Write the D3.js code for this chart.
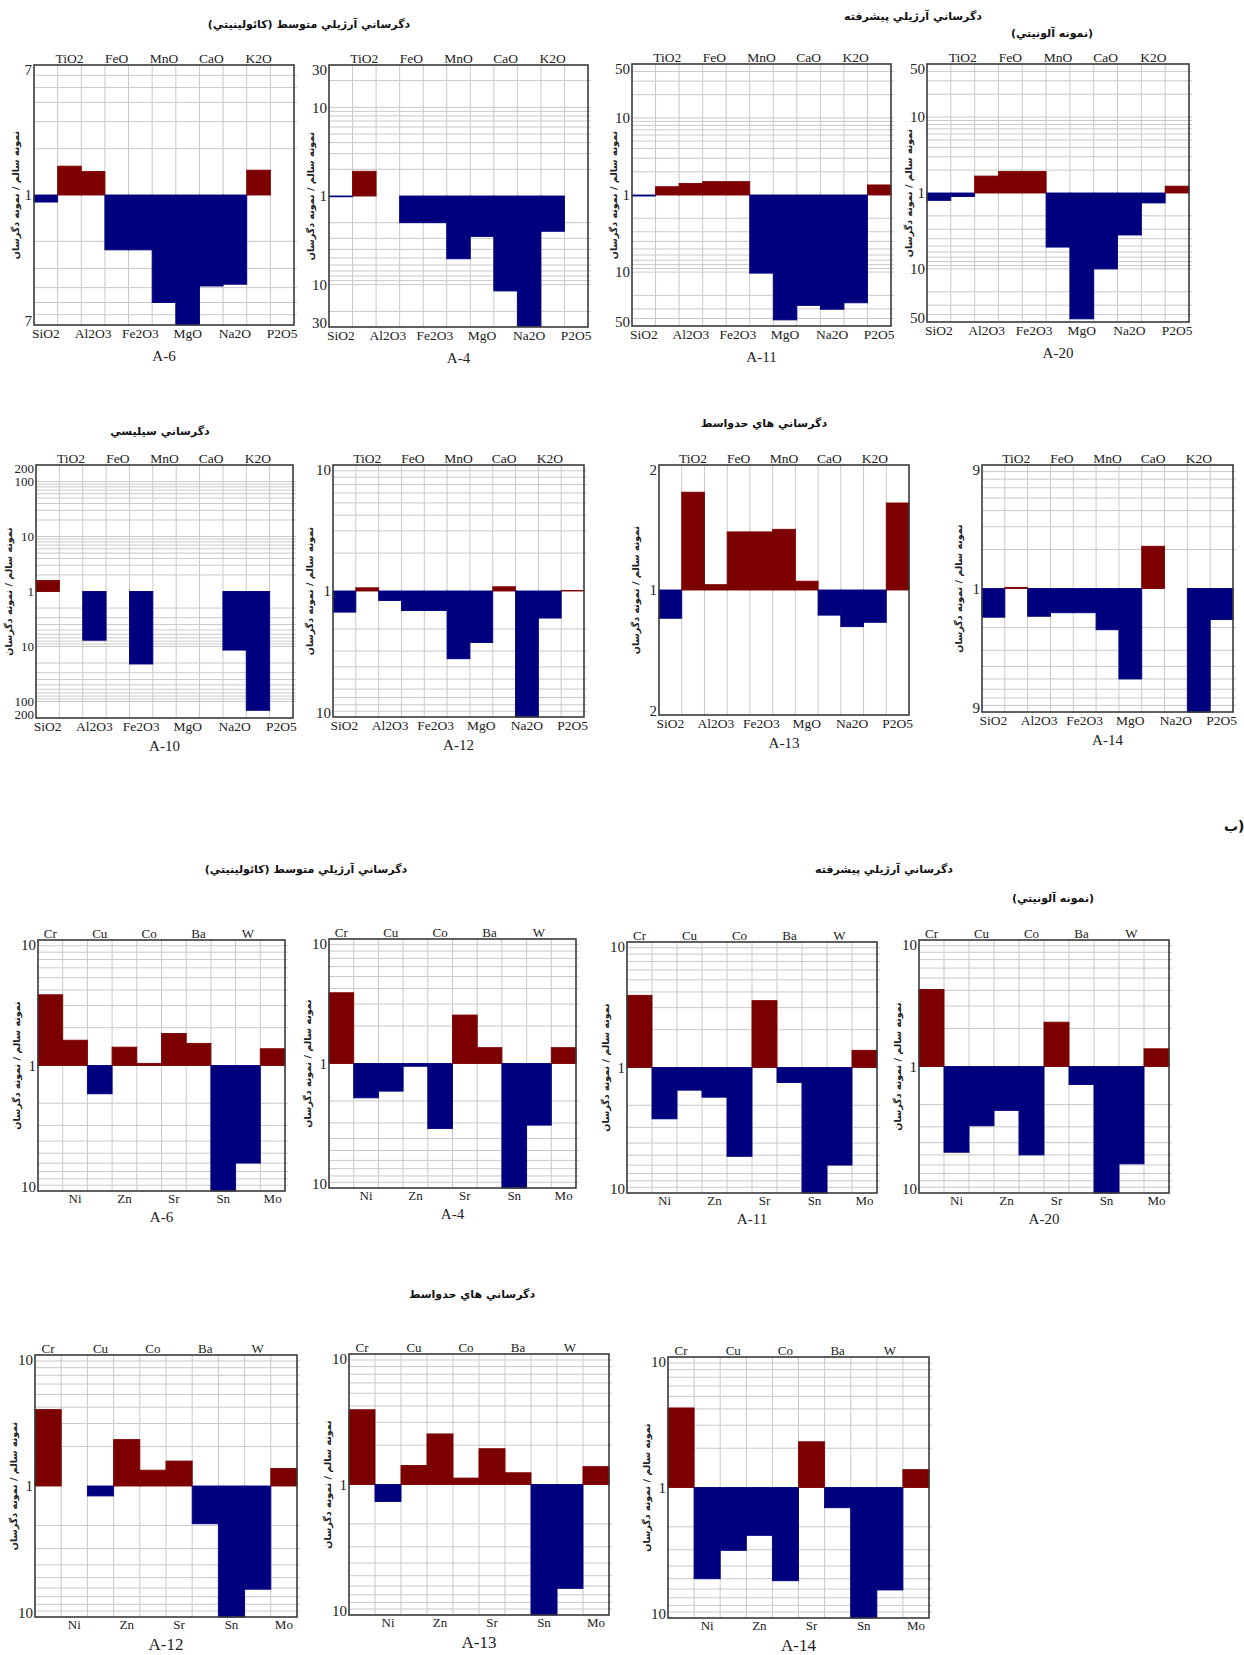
<!DOCTYPE html>
<html>
<head>
<meta charset="utf-8">
<script src="https://cdn.jsdelivr.net/npm/d3@7"></script>
<style>
  body { margin: 0; background: #fff; }
  svg { display: block; }
</style>
</head>
<body>
<svg id="chart" width="1244" height="1655"></svg>
<script>
// Element order on the horizontal axis
const oxides = ["SiO2", "TiO2", "Al2O3", "FeO", "Fe2O3", "MnO", "MgO", "CaO", "Na2O", "K2O", "P2O5"];
const traceElements = ["Cr", "Ni", "Cu", "Zn", "Co", "Sr", "Ba", "Sn", "W", "Mo"];

// Altered / fresh ratios, major oxides
const oxideA6  = [0.90, 1.54, 1.42, 0.44, 0.44, 0.20, 0.143, 0.256, 0.263, 1.45, 1.0];
const oxideA4  = [0.98, 1.90, 1.0, 0.50, 0.50, 0.196, 0.35, 0.085, 0.034, 0.40, 1.0];
const oxideA11 = [0.97, 1.28, 1.41, 1.49, 1.49, 0.097, 0.024, 0.037, 0.033, 0.040, 1.35];
const oxideA20 = [0.80, 0.90, 1.67, 1.92, 1.92, 0.194, 0.022, 0.10, 0.28, 0.74, 1.23];
const oxideA10 = [1.58, 1.0, 0.13, 1.0, 0.048, 1.0, 1.0, 1.0, 0.086, 0.0069, 1.0];
const oxideA12 = [0.68, 1.06, 0.84, 0.70, 0.70, 0.29, 0.39, 1.08, 0.10, 0.61, 1.01];
const oxideA13 = [0.855, 1.72, 1.03, 1.38, 1.38, 1.40, 1.05, 0.87, 0.816, 0.836, 1.62];
const oxideA14 = [0.60, 1.02, 0.61, 0.65, 0.65, 0.48, 0.20, 2.12, 1.0, 0.111, 0.575];

// Altered / fresh ratios, trace elements
const traceA6  = [3.66, 1.59, 0.595, 1.40, 1.04, 1.80, 1.50, 0.10, 0.167, 1.36];
const traceA4  = [3.70, 0.53, 0.60, 0.95, 0.30, 2.45, 1.34, 0.10, 0.32, 1.34];
const traceA11 = [3.76, 0.39, 0.66, 0.58, 0.196, 3.41, 0.76, 0.10, 0.167, 1.37];
const traceA20 = [4.06, 0.21, 0.34, 0.45, 0.20, 2.24, 0.72, 0.10, 0.17, 1.38];
const traceA12 = [3.83, 1.0, 0.84, 2.26, 1.32, 1.55, 0.515, 0.10, 0.163, 1.36];
const traceA13 = [3.74, 0.74, 1.40, 2.44, 1.12, 1.88, 1.23, 0.10, 0.16, 1.37];
const traceA14 = [4.07, 0.20, 0.33, 0.43, 0.193, 2.24, 0.70, 0.10, 0.164, 1.37];

// Sample names and symmetric axis limits / tick labels (same labels above and below 1)
const oxideSamples = ["A-6", "A-4", "A-11", "A-20", "A-10", "A-12", "A-13", "A-14"];
const oxideSeries = [oxideA6, oxideA4, oxideA11, oxideA20, oxideA10, oxideA12, oxideA13, oxideA14];
const oxideLimits = [7, 30, 50, 50, 200, 10, 2, 9];
const oxideTicks = [[7, 1], [30, 10, 1], [50, 10, 1], [50, 10, 1], [200, 100, 10, 1], [10, 1], [2, 1], [9, 1]];

const traceSamples = ["A-6", "A-4", "A-11", "A-20", "A-12", "A-13", "A-14"];
const traceSeries = [traceA6, traceA4, traceA11, traceA20, traceA12, traceA13, traceA14];
const traceLimits = [10, 10, 10, 10, 10, 10, 10];
const traceTicks = [10, 1];

// Group titles
const titleArgillicMid = "دگرساني آرژيلي متوسط (كائولينيتي)";
const titleArgillicAdv = "دگرساني آرژيلي پيشرفته";
const titleAlunite = "(نمونه آلونيتي)";
const titleSilicic = "دگرساني سيليسي";
const titleIntermediate = "دگرساني هاي حدواسط";
const yTitle = "نمونه سالم / نمونه دگرسان";

const GAIN = "#7d0000", LOSS = "#00007f";
const serif = "'Liberation Serif', 'DejaVu Serif', serif";
const persian = "'DejaVu Sans', sans-serif";

const svg = d3.select("#chart");

// Plot boxes: [left, right, top, bottom]
const oxideBoxes = [
  [34, 294, 65, 325], [329, 588, 65, 327], [632, 891, 64, 326], [927, 1189, 64, 322],
  [36, 293, 465, 718], [333, 584, 465, 717], [659, 909, 465, 715], [982, 1233, 465, 712]
];
const traceBoxes = [
  [38, 285, 940, 1191], [329, 576, 939, 1188], [627, 877, 942, 1193], [919, 1169, 940, 1193],
  [35, 297, 1355, 1617], [349, 609, 1354, 1615], [668, 929, 1357, 1618]
];

function logGrid(limit) {
  const vals = [];
  for (let p = 1; p < limit; p *= 10) {
    for (let k = 1; k <= 9; k++) {
      const v = k * p;
      if (v > 1 && v < limit - 1e-9) vals.push(v);
    }
  }
  return vals;
}

function drawPanel(opts) {
  const { cats, values, limit, ticks, box, name, nameSize, nameOffset,
          tickSize, topEven, titleOffset, catSize } = opts;
  const [x0, x1, y0, y1] = box;
  const g = svg.append("g");

  const x = d3.scaleBand().domain(cats).range([x0, x1]).padding(0);
  const y = d3.scaleLog().domain([1 / limit, limit]).range([y1, y0]);

  // background
  g.append("rect").attr("x", x0).attr("y", y0).attr("width", x1 - x0).attr("height", y1 - y0)
    .attr("fill", "#fff");

  // horizontal log grid, mirrored around 1
  const grid = logGrid(limit);
  const gridVals = grid.concat(grid.map(v => 1 / v));
  g.append("g").selectAll("line").data(gridVals).join("line")
    .attr("x1", x0).attr("x2", x1 + 3)
    .attr("y1", d => y(d)).attr("y2", d => y(d))
    .attr("stroke", "#c9c9c9").attr("stroke-width", 1);

  // vertical grid at column boundaries
  g.append("g").selectAll("line").data(cats.slice(1)).join("line")
    .attr("x1", d => x(d)).attr("x2", d => x(d))
    .attr("y1", y0).attr("y2", y1)
    .attr("stroke", "#c9c9c9").attr("stroke-width", 1);

  // bars from the ratio 1 line
  const base = y(1);
  g.append("g").selectAll("rect").data(cats.map((c, i) => ({ c, v: values[i] }))).join("rect")
    .attr("x", d => x(d.c))
    .attr("width", x.bandwidth())
    .attr("y", d => Math.min(y(d.v), base))
    .attr("height", d => Math.abs(y(d.v) - base))
    .attr("fill", d => d.v >= 1 ? GAIN : LOSS)
    .attr("stroke", d => d.v >= 1 ? GAIN : LOSS)
    .attr("stroke-width", 0.9);

  // frame
  g.append("rect").attr("x", x0).attr("y", y0).attr("width", x1 - x0).attr("height", y1 - y0)
    .attr("fill", "none").attr("stroke", "#3a3a3a").attr("stroke-width", 1.6);

  // y axis: labels mirrored above/below 1
  const yTicks = [];
  ticks.forEach(v => { yTicks.push(v); if (v !== 1) yTicks.push(1 / v); });
  const yAxis = d3.axisLeft(y).tickValues(yTicks).tickSize(0).tickPadding(2)
    .tickFormat(d => d >= 1 ? String(Math.round(d)) : String(Math.round(1 / d)));
  const ya = g.append("g").attr("transform", `translate(${x0},0)`).call(yAxis);
  ya.select(".domain").remove();
  ya.selectAll("text").attr("font-family", serif).attr("font-size", tickSize).attr("fill", "#222")
    .attr("dy", d => (Math.abs(d - limit) < 1e-9 ? "0.6em" : (Math.abs(d - 1 / limit) < 1e-9 ? "0.05em" : "0.32em")));

  // category labels alternating top / bottom
  const topCats = cats.filter((c, i) => (i % 2 === 0) === topEven);
  const botCats = cats.filter((c, i) => (i % 2 === 0) !== topEven);
  const at = g.append("g").attr("transform", `translate(0,${y0})`)
    .call(d3.axisTop(x).tickValues(topCats).tickSize(0).tickPadding(2));
  const ab = g.append("g").attr("transform", `translate(0,${y1})`)
    .call(d3.axisBottom(x).tickValues(botCats).tickSize(0).tickPadding(3));
  [at, ab].forEach(a => {
    a.select(".domain").remove();
    a.selectAll("text").attr("font-family", serif).attr("font-size", catSize).attr("fill", "#222");
  });

  // y title
  g.append("text")
    .attr("transform", `translate(${x0 - titleOffset},${(y0 + y1) / 2}) rotate(-90)`)
    .attr("text-anchor", "middle").attr("dominant-baseline", "middle")
    .attr("font-family", persian).attr("font-weight", "bold").attr("font-size", 9.5)
    .attr("fill", "#222").text(yTitle);

  // sample name
  g.append("text").attr("x", (x0 + x1) / 2).attr("y", y1 + nameOffset)
    .attr("text-anchor", "middle").attr("font-family", serif).attr("font-size", nameSize)
    .attr("fill", "#222").text(name);
}

oxideSamples.forEach((name, i) => {
  drawPanel({
    cats: oxides, values: oxideSeries[i], limit: oxideLimits[i], ticks: oxideTicks[i],
    box: oxideBoxes[i], name,
    nameSize: 15, nameOffset: i < 4 ? 36 : 33,
    tickSize: name === "A-10" ? 13 : 15, catSize: 13.5,
    topEven: false, titleOffset: name === "A-10" ? 27 : (i < 4 ? 18 : 23)
  });
});

traceSamples.forEach((name, i) => {
  drawPanel({
    cats: traceElements, values: traceSeries[i], limit: traceLimits[i], ticks: traceTicks,
    box: traceBoxes[i], name,
    nameSize: i < 4 ? 15 : 17, nameOffset: i < 4 ? 31 : 33,
    tickSize: 15, catSize: 13,
    topEven: true, titleOffset: 21
  });
});

// Group titles
const titles = [
  { t: titleArgillicMid, x: 309, y: 28 },
  { t: titleArgillicAdv, x: 913, y: 20 },
  { t: titleAlunite, x: 1052, y: 37 },
  { t: titleSilicic, x: 160, y: 435 },
  { t: titleIntermediate, x: 764, y: 427 },
  { t: titleArgillicMid, x: 306, y: 873 },
  { t: titleArgillicAdv, x: 884, y: 873 },
  { t: titleAlunite, x: 1053, y: 902 },
  { t: titleIntermediate, x: 472, y: 1298 }
];
svg.append("g").selectAll("text").data(titles).join("text")
  .attr("x", d => d.x).attr("y", d => d.y)
  .attr("text-anchor", "middle").attr("direction", "rtl")
  .attr("font-family", persian).attr("font-weight", "bold").attr("font-size", 11)
  .attr("fill", "#111").text(d => d.t);

// section marker
svg.append("text").attr("x", 1224).attr("y", 831).attr("direction", "ltr")
  .attr("font-family", persian).attr("font-weight", "bold").attr("font-size", 14)
  .attr("fill", "#111").text("ب)");
</script>
</body>
</html>
